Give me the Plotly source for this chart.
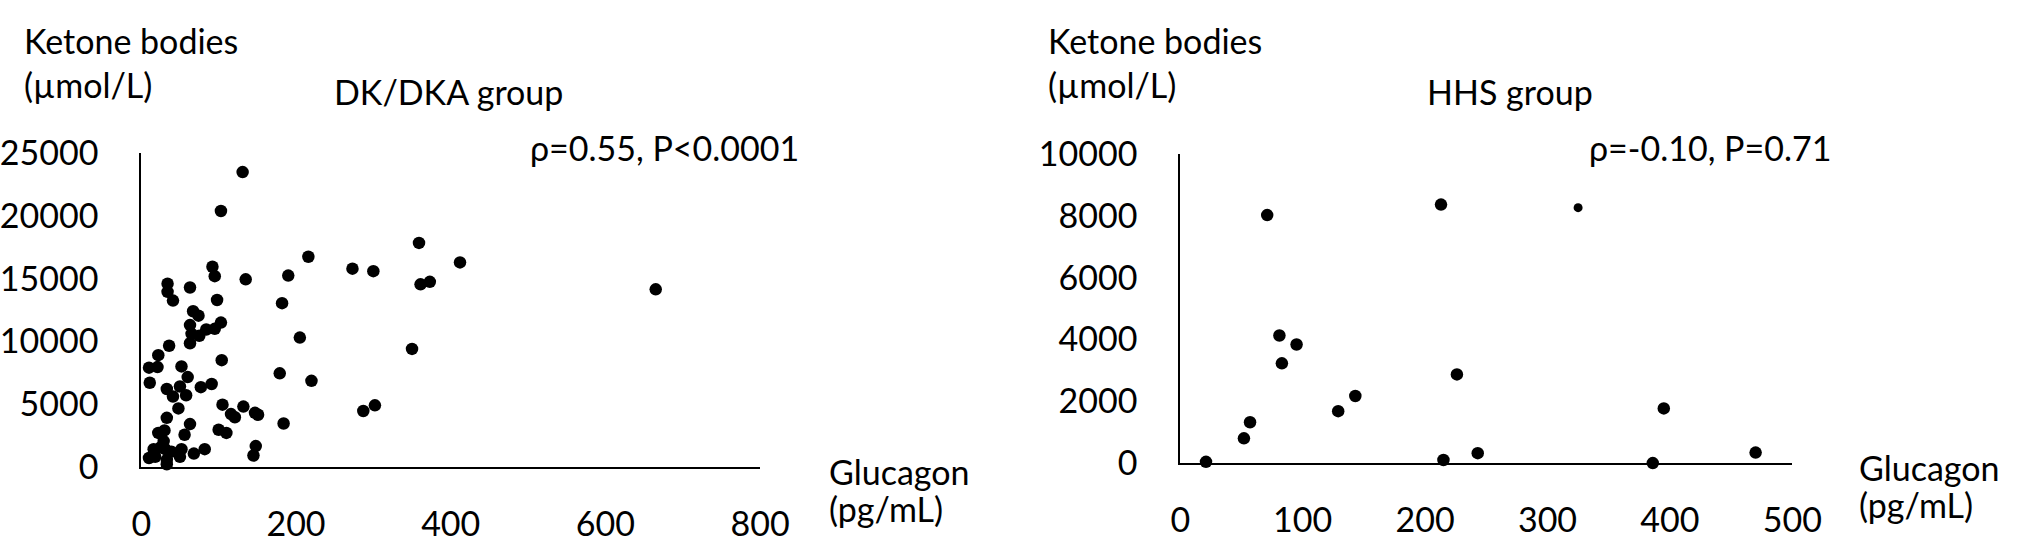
import plotly.graph_objects as go

# DK/DKA group: glucagon (pg/mL) vs ketone bodies (umol/L)
dk_glucagon = [131, 103, 359, 216, 412, 273, 300, 361, 373, 665,
               92, 95, 135, 63, 190, 98, 182, 67, 74, 34,
               34, 41, 103, 63, 95, 84, 75, 65, 63, 205,
               350, 36, 22, 10, 21, 52, 104, 179, 220, 11,
               60, 33, 50, 41, 58, 77, 91, 48, 105, 116,
               121, 132, 147, 151, 184, 33, 63, 100, 110, 22,
               30, 56, 148, 145, 29, 25, 31, 16, 39, 52,
               82, 68, 10, 18, 33, 33, 50, 302, 287]
dk_ketone = [23500, 20400, 17850, 16750, 16300, 15800, 15600, 14550, 14750, 14150,
             15950, 15200, 14950, 14300, 15250, 13300, 13050, 12400, 12050, 14600,
             13950, 13250, 11500, 11300, 11000, 10950, 10450, 10600, 9850, 10300,
             9400, 9650, 8900, 7900, 7950, 8000, 8500, 7450, 6850, 6700,
             7150, 6200, 6400, 5600, 5700, 6350, 6600, 4650, 4950, 4200,
             3950, 4800, 4300, 4150, 3450, 3900, 3400, 2950, 2700, 2700,
             2900, 2550, 1650, 900, 2050, 1550, 1400, 1400, 1200, 1400,
             1400, 1050, 700, 800, 550, 200, 800, 4900, 4450]

# HHS group
hhs_glucagon = [21, 71, 213, 81, 95, 83, 226, 143, 129, 57, 52, 215, 243, 395, 386, 470]
hhs_ketone = [40, 8030, 8370, 4130, 3840, 3230, 2870, 2170, 1680, 1320, 800, 100, 320, 1770, 0, 340]
hhs_small_glucagon = [325]
hhs_small_ketone = [8270]

dk_xticks = [0, 200, 400, 600, 800]
dk_yticks = [0, 5000, 10000, 15000, 20000, 25000]
hhs_xticks = [0, 100, 200, 300, 400, 500]
hhs_yticks = [0, 2000, 4000, 6000, 8000, 10000]

W, H = 2027, 544
FONT = dict(family="Lato", size=34, color="black")


def px(x):
    return x / W


def py(y):
    return 1 - y / H


fig = go.Figure()
fig.add_trace(go.Scatter(x=dk_glucagon, y=dk_ketone, mode="markers",
                         marker=dict(color="black", size=12.5),
                         cliponaxis=False, xaxis="x", yaxis="y"))
fig.add_trace(go.Scatter(x=hhs_glucagon, y=hhs_ketone, mode="markers",
                         marker=dict(color="black", size=12.5),
                         cliponaxis=False, xaxis="x2", yaxis="y2"))
fig.add_trace(go.Scatter(x=hhs_small_glucagon, y=hhs_small_ketone, mode="markers",
                         marker=dict(color="black", size=9),
                         cliponaxis=False, xaxis="x2", yaxis="y2"))

axis_style = dict(showline=True, linecolor="black", linewidth=2, showgrid=False,
                  zeroline=False, ticks="", tickfont=FONT, tickformat="d",
                  fixedrange=True)

fig.update_layout(
    width=W, height=H,
    margin=dict(l=0, r=0, t=0, b=0),
    paper_bgcolor="white", plot_bgcolor="white",
    showlegend=False,
    xaxis=dict(domain=[px(132), px(764)], range=[0, 800], tickvals=dk_xticks,
               ticklabelstandoff=26, anchor="y", **axis_style),
    yaxis=dict(domain=[py(481), py(142)], range=[0, 25000], tickvals=dk_yticks,
               ticklabelstandoff=34, anchor="x", **axis_style),
    xaxis2=dict(domain=[px(1193), px(1818)], range=[0, 500], tickvals=hhs_xticks,
                ticklabelstandoff=26, anchor="y2", **axis_style),
    yaxis2=dict(domain=[py(477), py(143)], range=[0, 10000], tickvals=hhs_yticks,
                ticklabelstandoff=34, anchor="x2", **axis_style),
)

texts = [
    ("Ketone bodies", 10, 20, "left"),
    ("(µmol/L)", 10, 68, "left"),
    ("DK/DKA group", 446, 75, "center"),
    ("ρ=0.55, P&lt;0.0001", 527, 136, "left"),
    ("Glucagon", 832, 486, "left"),
    ("(pg/mL)", 832, 526, "left"),
    ("Ketone bodies", 1056, 20, "left"),
    ("(µmol/L)", 1056, 68, "left"),
    ("HHS group", 1530, 75, "center"),
    ("ρ=-0.10, P=0.71", 1608, 136, "left"),
    ("Glucagon", 1884, 482, "left"),
    ("(pg/mL)", 1884, 522, "left"),
]
for t, x, y, anchor in texts:
    fig.add_annotation(text=t, x=px(x), y=py(y), xref="paper", yref="paper",
                       xanchor=anchor, yanchor="middle", showarrow=False, font=FONT)

fig.write_html("out.html", config={"displayModeBar": False},
               post_script="document.body.style.margin='0';document.body.style.overflow='hidden';")
